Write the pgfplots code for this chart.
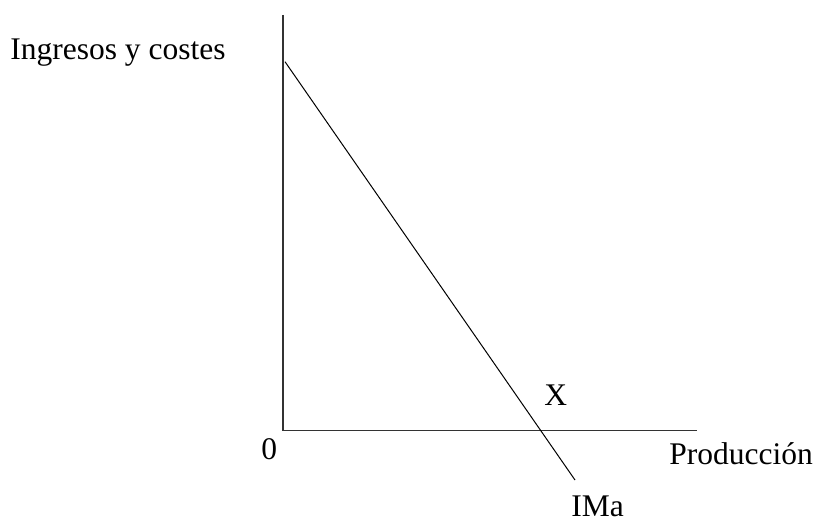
\documentclass[border=0pt]{standalone}
\usepackage{fontspec}
\setmainfont{Liberation Serif}
\usepackage{pgfplots}
\pgfplotsset{compat=1.18}
\tikzset{lbl/.style={font=\fontsize{15.75}{19}\selectfont, inner sep=0pt, anchor=base west}}

% picture laid out in reference pixels (1 px = 0.5 pt), y measured upwards
\begin{document}
\begin{tikzpicture}
  \begin{axis}[
    scale only axis, width=407.5pt, height=260.5pt,
    xmin=0, xmax=815, ymin=0, ymax=521,
    hide axis, clip=false,
  ]
    % keeps the page as large as the reference
    \addplot[draw=none] coordinates {(0,0) (815,521)};
    % axes
    \addplot[black!80, line width=0.6pt] coordinates {(283,506) (283,90.3) (697,90.3)};
    % marginal revenue
    \addplot[black, line width=0.5pt] coordinates {(285,459.3) (575,41)};
    \node[lbl] at (axis cs:10,462) {Ingresos y costes};
    \node[lbl] at (axis cs:261,62) {0};
    \node[lbl] at (axis cs:544,116) {X};
    \node[lbl] at (axis cs:669,57) {Producción};
    \node[lbl] at (axis cs:571,4.3) {IMa};
  \end{axis}
\end{tikzpicture}
\end{document}
